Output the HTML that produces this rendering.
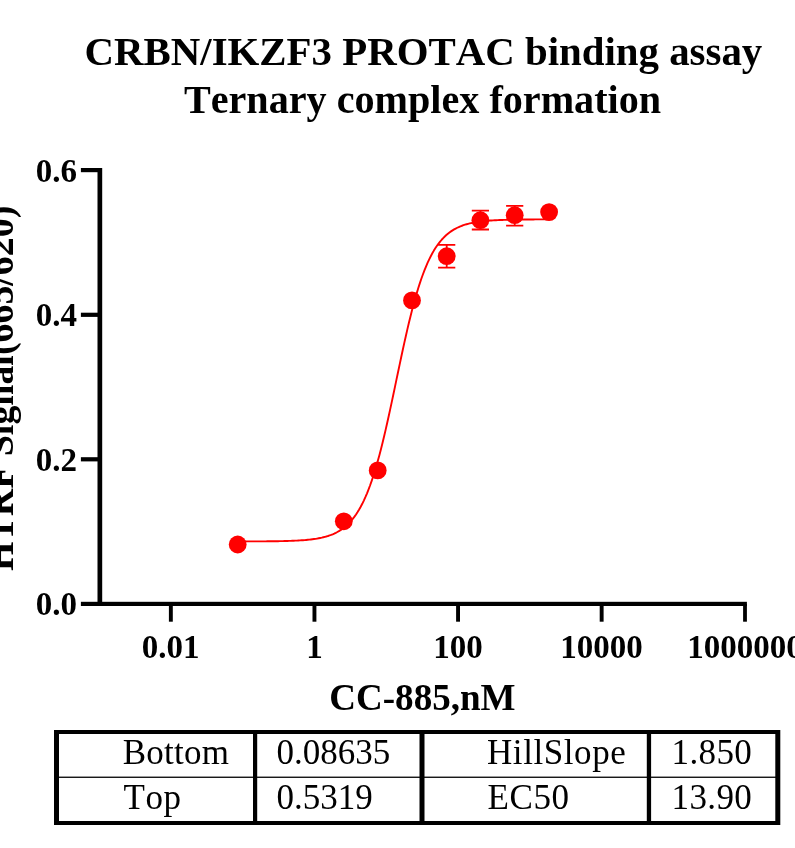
<!DOCTYPE html>
<html><head><meta charset="utf-8"><title>CRBN/IKZF3 PROTAC binding assay</title>
<style>
html,body{margin:0;padding:0;background:#fff;}
body{width:795px;height:848px;overflow:hidden;position:relative;}
svg{position:absolute;left:0;top:0;display:block;will-change:transform;}
text{font-family:"Liberation Serif",serif;fill:#000;font-kerning:none;}
.b{font-weight:bold;}
.title{font-size:40.6px;text-anchor:middle;}
.ax{font-size:37.1px;text-anchor:middle;}
.tk{font-size:33px;}
.tb{font-size:35px;}
</style></head><body>
<svg width="795" height="848" viewBox="0 0 795 848">
<rect x="0" y="0" width="795" height="848" fill="#fff"/>
<!-- title -->
<text class="b title" style="font-size:40.86px" x="423.4" y="65.2">CRBN/IKZF3 PROTAC binding assay</text>
<text class="b title" style="font-size:40.15px" x="422.5" y="113.2">Ternary complex formation</text>
<!-- axes -->
<g fill="#000">
<rect x="97.5" y="168" width="4.7" height="438"/>
<rect x="80.9" y="601.8" width="666" height="4.2"/>
<rect x="80.9" y="168" width="18" height="4.2"/>
<rect x="80.9" y="312.7" width="18" height="4.2"/>
<rect x="80.9" y="457.2" width="18" height="4.2"/>
<rect x="168.9" y="604" width="3.9" height="17.7"/>
<rect x="312.5" y="604" width="3.9" height="17.7"/>
<rect x="456.1" y="604" width="3.9" height="17.7"/>
<rect x="599.7" y="604" width="3.9" height="17.7"/>
<rect x="743.1" y="604" width="3.8" height="17.7"/>
</g>
<!-- y tick labels -->
<g class="b tk" text-anchor="end">
<text x="77.1" y="181.6">0.6</text>
<text x="77.1" y="326.3">0.4</text>
<text x="77.1" y="470.7">0.2</text>
<text x="77.1" y="615.4">0.0</text>
</g>
<g class="b tk" text-anchor="middle">
<text x="170.6" y="657.5">0.01</text>
<text x="314.4" y="657.5">1</text>
<text x="458" y="657.5">100</text>
<text x="601.6" y="657.5">10000</text>
<text x="745" y="657.5">1000000</text>
</g>
<text class="b ax" x="422.4" y="709.6">CC-885,nM</text>
<text class="b ax" style="font-size:37.9px" transform="translate(13.2,388.3) rotate(-90)" x="0" y="0">HTRF Signal(665/620)</text>
<!-- curve -->
<path d="M237.70,541.44 L239.26,541.44 L240.81,541.44 L242.37,541.43 L243.93,541.43 L245.48,541.43 L247.04,541.42 L248.60,541.42 L250.16,541.41 L251.71,541.41 L253.27,541.40 L254.83,541.40 L256.38,541.39 L257.94,541.38 L259.50,541.37 L261.06,541.36 L262.61,541.35 L264.17,541.34 L265.73,541.33 L267.28,541.32 L268.84,541.30 L270.40,541.29 L271.95,541.27 L273.51,541.25 L275.07,541.23 L276.62,541.20 L278.18,541.18 L279.74,541.15 L281.30,541.12 L282.85,541.09 L284.41,541.05 L285.97,541.01 L287.52,540.97 L289.08,540.92 L290.64,540.86 L292.19,540.80 L293.75,540.74 L295.31,540.67 L296.87,540.59 L298.42,540.51 L299.98,540.42 L301.54,540.31 L303.09,540.20 L304.65,540.08 L306.21,539.95 L307.76,539.80 L309.32,539.64 L310.88,539.46 L312.44,539.27 L313.99,539.06 L315.55,538.83 L317.11,538.57 L318.66,538.29 L320.22,537.99 L321.78,537.66 L323.34,537.29 L324.89,536.89 L326.45,536.46 L328.01,535.98 L329.56,535.46 L331.12,534.89 L332.68,534.27 L334.23,533.59 L335.79,532.84 L337.35,532.03 L338.90,531.15 L340.46,530.18 L342.02,529.13 L343.58,527.99 L345.13,526.74 L346.69,525.39 L348.25,523.91 L349.80,522.31 L351.36,520.58 L352.92,518.70 L354.48,516.66 L356.03,514.46 L357.59,512.09 L359.15,509.52 L360.70,506.76 L362.26,503.80 L363.82,500.61 L365.37,497.20 L366.93,493.55 L368.49,489.65 L370.05,485.51 L371.60,481.10 L373.16,476.43 L374.72,471.50 L376.27,466.31 L377.83,460.85 L379.39,455.14 L380.94,449.17 L382.50,442.97 L384.06,436.53 L385.62,429.89 L387.17,423.06 L388.73,416.06 L390.29,408.91 L391.84,401.64 L393.40,394.29 L394.96,386.87 L396.51,379.43 L398.07,372.00 L399.63,364.60 L401.19,357.26 L402.74,350.02 L404.30,342.91 L405.86,335.95 L407.41,329.16 L408.97,322.57 L410.53,316.20 L412.08,310.06 L413.64,304.16 L415.20,298.51 L416.75,293.12 L418.31,287.99 L419.87,283.13 L421.43,278.53 L422.98,274.20 L424.54,270.12 L426.10,266.29 L427.65,262.70 L429.21,259.35 L430.77,256.22 L432.33,253.30 L433.88,250.60 L435.44,248.08 L437.00,245.75 L438.55,243.60 L440.11,241.60 L441.67,239.76 L443.22,238.06 L444.78,236.50 L446.34,235.06 L447.90,233.73 L449.45,232.51 L451.01,231.39 L452.57,230.36 L454.12,229.42 L455.68,228.55 L457.24,227.76 L458.79,227.04 L460.35,226.37 L461.91,225.76 L463.47,225.21 L465.02,224.70 L466.58,224.23 L468.14,223.80 L469.69,223.41 L471.25,223.06 L472.81,222.73 L474.36,222.44 L475.92,222.16 L477.48,221.92 L479.04,221.69 L480.59,221.48 L482.15,221.30 L483.71,221.12 L485.26,220.97 L486.82,220.82 L488.38,220.69 L489.93,220.57 L491.49,220.46 L493.05,220.37 L494.61,220.27 L496.16,220.19 L497.72,220.12 L499.28,220.05 L500.83,219.99 L502.39,219.93 L503.95,219.88 L505.50,219.83 L507.06,219.78 L508.62,219.75 L510.18,219.71 L511.73,219.68 L513.29,219.65 L514.85,219.62 L516.40,219.59 L517.96,219.57 L519.52,219.55 L521.07,219.53 L522.63,219.51 L524.19,219.50 L525.75,219.48 L527.30,219.47 L528.86,219.46 L530.42,219.45 L531.97,219.44 L533.53,219.43 L535.09,219.42 L536.64,219.41 L538.20,219.41 L539.76,219.40 L541.32,219.40 L542.87,219.39 L544.43,219.39 L545.99,219.38 L547.54,219.38 L549.10,219.37" fill="none" stroke="#f00" stroke-width="1.9" stroke-linejoin="round"/>
<circle cx="237.7" cy="544.5" r="8.9" fill="#f00"/>
<circle cx="343.8" cy="521.3" r="8.9" fill="#f00"/>
<circle cx="377.7" cy="470.4" r="8.9" fill="#f00"/>
<circle cx="412.0" cy="300.4" r="8.9" fill="#f00"/>
<path d="M446.7,244.8 V267.7 M438.1,244.8 H455.3 M438.1,267.7 H455.3" stroke="#f00" stroke-width="1.8" fill="none"/>
<circle cx="446.7" cy="256.2" r="8.9" fill="#f00"/>
<path d="M480.4,210.6 V229.5 M471.8,210.6 H489.0 M471.8,229.5 H489.0" stroke="#f00" stroke-width="1.8" fill="none"/>
<circle cx="480.4" cy="220.2" r="8.9" fill="#f00"/>
<path d="M514.7,205.8 V225.7 M506.1,205.8 H523.3 M506.1,225.7 H523.3" stroke="#f00" stroke-width="1.8" fill="none"/>
<circle cx="514.7" cy="215.2" r="8.9" fill="#f00"/>
<circle cx="549.1" cy="212.1" r="8.9" fill="#f00"/>
<!-- table -->
<g fill="#000">
<rect x="54" y="730" width="726" height="4"/>
<rect x="54" y="821" width="726" height="4"/>
<rect x="54" y="730" width="5" height="95"/>
<rect x="775.3" y="730" width="5" height="95"/>
<rect x="253" y="730" width="4.2" height="95"/>
<rect x="419.5" y="730" width="5" height="95"/>
<rect x="646.8" y="730" width="4.3" height="95"/>
<rect x="54" y="776.6" width="726" height="1.3"/>
</g>
<g class="tb">
<text x="122.8" y="764" textLength="106.1">Bottom</text>
<text x="123.5" y="809.2" textLength="57.5">Top</text>
<text x="276.5" y="764">0.08635</text>
<text x="276.5" y="809.2">0.5319</text>
<text x="487" y="764" textLength="138.8">HillSlope</text>
<text x="487.4" y="809.2" textLength="81.7">EC50</text>
<text x="671.6" y="764" textLength="80.2">1.850</text>
<text x="671.6" y="809.2" textLength="80.2">13.90</text>
</g>
</svg>
</body></html>
